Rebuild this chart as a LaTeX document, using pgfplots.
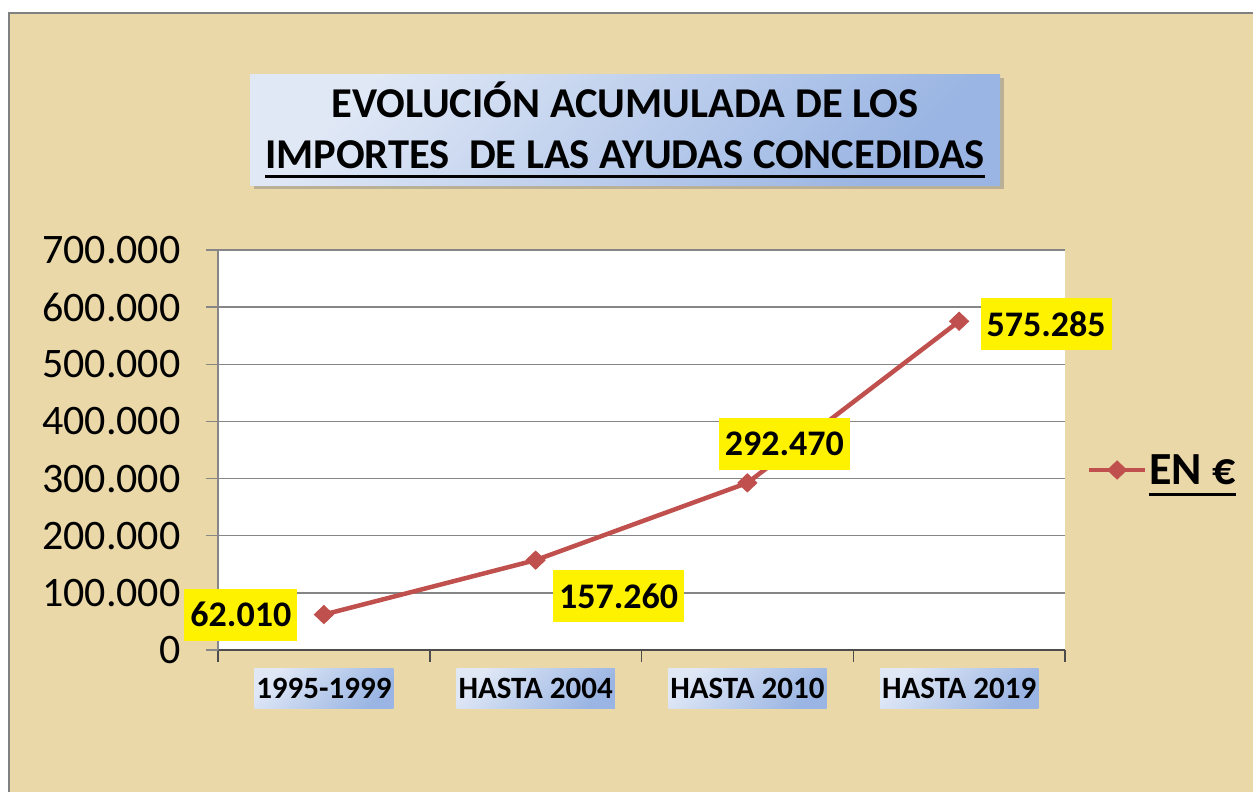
\documentclass[border=0pt]{standalone}
\usepackage{fontspec}
\setmainfont{Carlito}
\usepackage{pgfplots}
\pgfplotsset{compat=1.18}
\usetikzlibrary{shadows}
\definecolor{papyrus}{RGB}{234,216,168}
\definecolor{linered}{RGB}{192,80,77}
\definecolor{boxlight}{RGB}{224,232,246}
\definecolor{boxdark}{RGB}{154,181,227}
\definecolor{gridgray}{RGB}{134,134,134}
\newsavebox\ulbox
\newcommand\myul[3]{\sbox\ulbox{#3}\leavevmode\rlap{\rule[-#1]{\wd\ulbox}{#2}}\usebox\ulbox}
\begin{document}
\begin{tikzpicture}[x=1pt,y=1pt]
\path[use as bounding box] (0,0) rectangle (1253,792);
\fill[white] (0,0) rectangle (1253,792);
\filldraw[fill=papyrus, draw=gray, line width=1.5pt] (9,-5) rectangle (1262,779);
\node[top color=boxlight, bottom color=boxdark, shading angle=45,
      drop shadow={shadow xshift=4pt, shadow yshift=-4pt, opacity=0.45},
      minimum width=750pt, minimum height=111pt, align=center, inner sep=0pt,
      font=\fontsize{42.5}{51}\selectfont\bfseries] at (625,662)
      {EVOLUCIÓN ACUMULADA DE LOS\\ \myul{9pt}{3pt}{IMPORTES\ \ DE LAS AYUDAS CONCEDIDAS}};
\begin{axis}[
  at={(218pt,142pt)}, anchor=south west, scale only axis,
  width=847pt, height=400pt,
  xmin=0.5, xmax=4.5, ymin=0, ymax=700000,
  axis background/.style={fill=white},
  axis lines*=left,
  x axis line style={-, draw=black!70, line width=2pt},
  y axis line style={-, draw=gridgray, line width=1.5pt},
  tick align=outside,
  major tick length=12pt,
  xtick={0.5,1.5,2.5,3.5,4.5},
  xticklabels={},
  xtick style={draw=black!70, line width=1.5pt},
  extra x ticks={1,2,3,4},
  extra x tick labels={1995-1999, HASTA 2004, HASTA 2010, HASTA 2019},
  extra x tick style={major tick length=0pt, tick style={draw=none},
     xticklabel style={font=\fontsize{31}{33}\selectfont\bfseries,
     top color=boxlight, bottom color=boxdark, shading angle=45,
     minimum height=40pt, inner xsep=2pt, yshift=-18pt}},
  ytick={0,100000,...,700000},
  scaled y ticks=false,
  yticklabel style={font=\fontsize{42}{46}\selectfont, xshift=-22pt,
     /pgf/number format/.cd, fixed, 1000 sep={.}, assume math mode=true},
  ytick style={draw=gridgray, line width=1.5pt},
  ymajorgrids,
  grid style={draw=gridgray, line width=1.5pt},
  legend style={at={(1.022,0.45)}, anchor=west, draw=none, fill=none,
     font=\fontsize{46}{50}\selectfont\bfseries},
  legend image code/.code={\draw[#1, mark repeat=2, mark phase=2] plot coordinates {(0pt,0pt) (28pt,0pt) (56pt,0pt)};},
  clip=false,
]
\addplot[linered, line width=4.5pt, mark=diamond*, mark size=9pt, mark options={solid, fill=linered, line width=1pt, xscale=1.4}]
  coordinates {(1,62010) (2,157260) (3,292470) (4,575285)};
\addlegendentry{\myul{12pt}{3.5pt}{EN €}}
\tikzset{lbl/.style={fill=yellow, font=\fontsize{36}{40}\selectfont\bfseries, minimum height=52pt, inner xsep=6pt}}
\node[lbl] at (axis cs:1,62010) [xshift=-83pt] {62.010};
\node[lbl] at (axis cs:2,157260) [xshift=83pt, yshift=-36pt] {157.260};
\node[lbl] at (axis cs:3,292470) [xshift=37pt, yshift=39pt] {292.470};
\node[lbl] at (axis cs:4,575285) [xshift=87pt, yshift=-3pt] {575.285};
\end{axis}
\end{tikzpicture}
\end{document}
